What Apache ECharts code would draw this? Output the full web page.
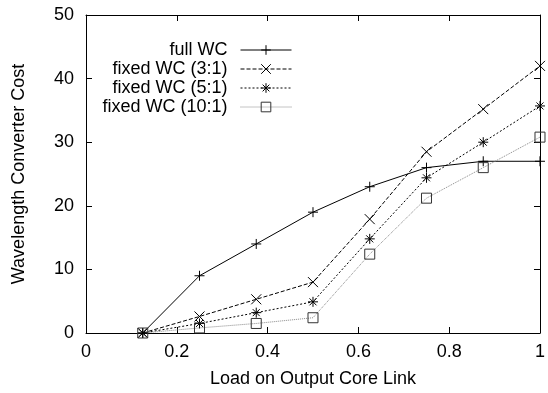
<!DOCTYPE html>
<html>
<head>
<meta charset="utf-8">
<script src="https://cdn.jsdelivr.net/npm/echarts@6/dist/echarts.min.js"></script>
<style>
  html, body { margin: 0; padding: 0; background: #fff; }
  #chart { width: 548px; height: 393px; }
</style>
</head>
<body>
<div id="chart"></div>
<script>
// load values on the x axis
const loads = [0.125, 0.25, 0.375, 0.5, 0.625, 0.75, 0.875, 1];

// wavelength converter cost per scheme
const fullWC = [0, 9, 14, 19, 23, 26, 27, 27];
const fixed3 = [0, 2.6, 5.3, 8, 17.9, 28.5, 35.2, 42];
const fixed5 = [0, 1.5, 3.2, 4.9, 14.8, 24.4, 30, 35.7];
const fixed10 = [0, 0.8, 1.5, 2.4, 12.4, 21.2, 26, 30.8];

const seriesNames = ['full WC', 'fixed WC (3:1)', 'fixed WC (5:1)', 'fixed WC (10:1)'];

const FONT = '"Liberation Sans", Arial, Helvetica, sans-serif';
const FS = 18;

// gnuplot style point shapes
const plusPath = 'path://M0,5L10,5M5,0L5,10';
const crossPath = 'path://M0,0L10,10M0,10L10,0';
const starPath = 'path://M0,5L10,5M5,0L5,10M1.5,1.5L8.5,8.5M1.5,8.5L8.5,1.5';
const boxPath = 'path://M0,0L10,0L10,10L0,10Z';

const pairs = (ys) => loads.map((x, i) => [x, ys[i]]);

const makeSeries = (name, ys, symbol, size, lineColor, dash, markColor) => ({
    name: name,
    type: 'line',
    data: pairs(ys),
    symbol: symbol,
    symbolSize: size,
    clip: false,
    lineStyle: { color: lineColor, width: 1, type: dash },
    itemStyle: { color: 'rgba(0,0,0,0)', borderColor: markColor, borderWidth: 1 },
    emphasis: { disabled: true }
});

const chart = echarts.init(document.getElementById('chart'));

// mirrored axes on top and right like gnuplot's border
const baseTick = { show: true, inside: true, length: 6, lineStyle: { color: '#000', width: 1 } };
const baseLine = { show: true, onZero: false, lineStyle: { color: '#000', width: 1 } };

chart.setOption({
    animation: false,
    backgroundColor: '#fff',
    textStyle: { fontFamily: FONT },
    grid: { left: 86, right: 5, top: 15, bottom: 56 },
    legend: {
        data: seriesNames,
        orient: 'vertical',
        align: 'right',
        right: 251,
        top: 36,
        itemWidth: 51,
        itemHeight: 12,
        itemGap: 1,
        selectedMode: false,
        lineStyle: { width: 1 },
        itemStyle: { borderWidth: 1 },
        textStyle: { fontFamily: FONT, fontSize: FS, color: '#000', lineHeight: 18, padding: [0, 8, 0, 0] }
    },
    xAxis: [{
        type: 'value',
        min: 0, max: 1, interval: 0.2,
        name: 'Load on Output Core Link',
        nameLocation: 'middle',
        nameGap: 37,
        nameTextStyle: { fontFamily: FONT, fontSize: FS, color: '#000' },
        axisLine: baseLine,
        axisTick: baseTick,
        splitLine: { show: false },
        axisLabel: { fontFamily: FONT, fontSize: FS, color: '#000', margin: 10 }
    }, {
        type: 'value',
        position: 'top',
        min: 0, max: 1, interval: 0.2,
        axisLine: baseLine,
        axisTick: baseTick,
        splitLine: { show: false },
        axisLabel: { show: false }
    }],
    yAxis: [{
        type: 'value',
        min: 0, max: 50, interval: 10,
        name: 'Wavelength Converter Cost',
        nameLocation: 'middle',
        nameGap: 58,
        nameTextStyle: { fontFamily: FONT, fontSize: FS, color: '#000' },
        axisLine: baseLine,
        axisTick: baseTick,
        splitLine: { show: false },
        axisLabel: { fontFamily: FONT, fontSize: FS, color: '#000', margin: 12 }
    }, {
        type: 'value',
        position: 'right',
        min: 0, max: 50, interval: 10,
        axisLine: baseLine,
        axisTick: baseTick,
        splitLine: { show: false },
        axisLabel: { show: false }
    }],
    series: [
        makeSeries(seriesNames[0], fullWC, plusPath, 10, '#000', 'solid', '#000'),
        makeSeries(seriesNames[1], fixed3, crossPath, 10, '#000', [4, 2], '#000'),
        makeSeries(seriesNames[2], fixed5, starPath, 10, '#000', [2, 2], '#000'),
        makeSeries(seriesNames[3], fixed10, boxPath, 10, '#888', [1, 1], '#333')
    ]
});
</script>
</body>
</html>
